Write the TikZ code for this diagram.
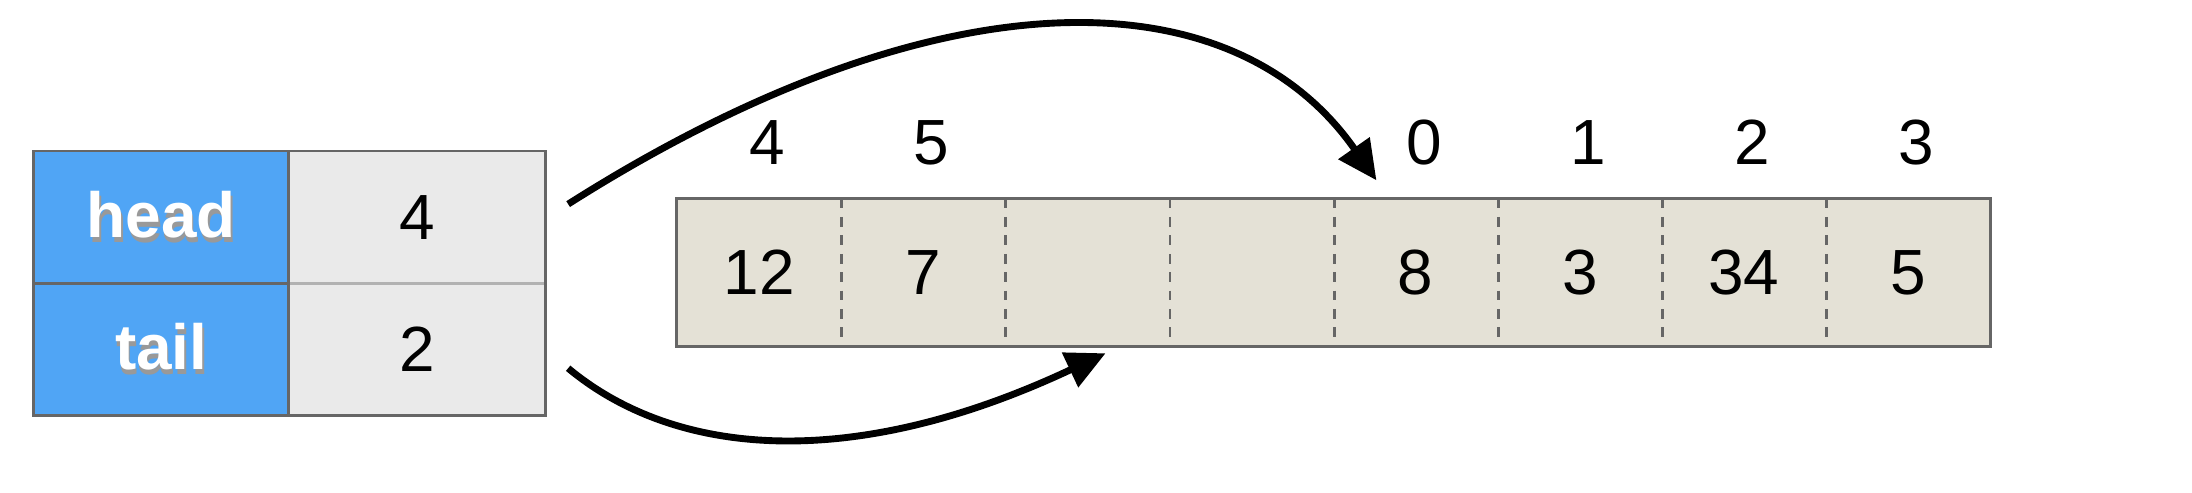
\documentclass[tikz,border=0pt]{standalone}
\usepackage{fontspec}
\setmainfont{Liberation Sans}
\usetikzlibrary{arrows.meta,positioning}
\definecolor{keyblue}{RGB}{80,165,245}
\definecolor{valgray}{RGB}{234,234,234}
\definecolor{slotfill}{RGB}{228,225,214}
\definecolor{edgegray}{RGB}{102,102,102}
\newcommand{\keytext}[1]{\makebox[0pt][l]{\kern0.6pt\raisebox{-2pt}{\color{black!40}#1}}#1}
\tikzset{
  keycell/.style={fill=keyblue,minimum width=3.64cm,minimum height=1.88cm,inner sep=0pt,text=white,font=\fontsize{26}{30}\selectfont\bfseries},
  valcell/.style={fill=valgray,minimum width=3.66cm,minimum height=1.88cm,inner sep=0pt,font=\fontsize{26}{30}\selectfont},
  slot/.style={fill=slotfill,minimum width=\kcw cm,minimum height=2.1cm,inner sep=0pt,font=\fontsize{26}{30}\selectfont},
  idxlabel/.style={inner sep=0pt,font=\fontsize{26}{30}\selectfont},
  ptr/.style={-{Triangle[length=16pt,width=15pt]},line width=2.8pt},
}
\begin{document}
\begin{tikzpicture}
\useasboundingbox (0,0) rectangle (31.36,-7.04);
\pgfmathsetmacro{\kcw}{2.348}
\node[keycell,anchor=north west] (headkey) at (0.48,-2.16) {\keytext{head}};
\node[valcell,right=0pt of headkey] (headval) {4};
\node[keycell,below=0pt of headkey] (tailkey) {\keytext{tail}};
\node[valcell,right=0pt of tailkey] (tailval) {2};
\draw[black!30,line width=1.2pt] (headval.south west)--(headval.south east);
\draw[edgegray,line width=1.2pt] (headkey.south west)--(headkey.south east) (headkey.north east)--(tailkey.south east);
\draw[edgegray,line width=1.2pt] (headkey.north west) rectangle (tailval.south east);
\foreach \i/\val in {0/12,1/7,2/{},3/{},4/8,5/3,6/34,7/5}{\node[slot,anchor=north west] (c\i) at (9.68+\i*\kcw,-2.84) {\val};}
\foreach \i in {0,...,6}{\draw[edgegray,line width=1.2pt,dash pattern=on 4pt off 3.5pt] (c\i.north east)--(c\i.south east);}
\draw[edgegray,line width=1.2pt] (c0.north west) rectangle (c7.south east);
\foreach \i/\idx in {0/4,1/5,4/0,5/1,6/2,7/3}{\node[idxlabel] (n\i) at ([xshift=0.12cm,yshift=0.8cm]c\i.north) {\idx};}
\draw[ptr] ([xshift=0.32cm,yshift=-0.76cm]headval.north east) .. controls +(5.2,3.3) and +(-2.1,3.0) .. ([xshift=0.62cm,yshift=0.26cm]c4.north west);
\draw[ptr] ([xshift=0.32cm,yshift=0.68cm]tailval.south east) .. controls +(1.54,-1.28) and +(-3.62,-1.7) .. ([xshift=0.26cm,yshift=-0.1cm]c2.south);
\end{tikzpicture}
\end{document}
